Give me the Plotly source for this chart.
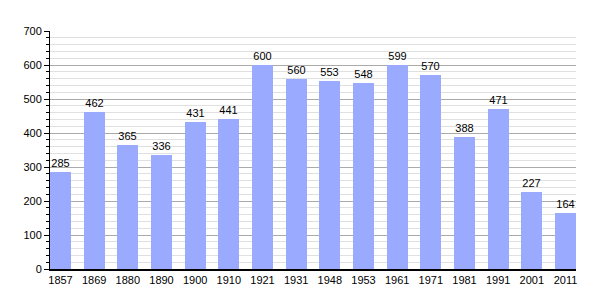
import plotly.graph_objects as go

years = ["1857", "1869", "1880", "1890", "1900", "1910", "1921", "1931",
         "1948", "1953", "1961", "1971", "1981", "1991", "2001", "2011"]
population = [285, 462, 365, 336, 431, 441, 600, 560, 553, 548, 599, 570, 388, 471, 227, 164]
y_ticks = [0, 100, 200, 300, 400, 500, 600, 700]

fig = go.Figure(go.Bar(
    x=list(range(len(years))),
    y=population,
    width=0.624,
    marker=dict(color="#99aaff", line=dict(width=0)),
    text=[str(v) for v in population],
    textposition="outside",
    textfont=dict(size=11, color="black", family="Liberation Sans, Arial, sans-serif"),
    cliponaxis=False,
))

fig.update_layout(
    width=605, height=300,
    margin=dict(l=50, r=29, t=31, b=31),
    plot_bgcolor="white", paper_bgcolor="white",
    showlegend=False,
    font=dict(family="Liberation Sans, Arial, sans-serif", size=11, color="black"),
    bargap=0,
)
fig.update_xaxes(
    tickmode="array", tickvals=list(range(len(years))), ticktext=years,
    range=[-0.312, 15.312],
    showline=True, linecolor="black", linewidth=1.5,
    showgrid=False, ticks="", zeroline=False,
    tickfont=dict(size=11),
)
fig.update_yaxes(
    range=[0, 700], tickmode="array", tickvals=y_ticks,
    showline=True, linecolor="black", linewidth=1,
    showgrid=True, gridcolor="#aaaaaa", gridwidth=1,
    ticks="outside", ticklen=5, tickcolor="black", tickwidth=1,
    zeroline=False,
    tickfont=dict(size=11),
    minor=dict(dtick=20, showgrid=True, gridcolor="#e0e0e0", gridwidth=1,
               ticks="outside", ticklen=3, tickcolor="black"),
)

fig.write_html("out.html")
